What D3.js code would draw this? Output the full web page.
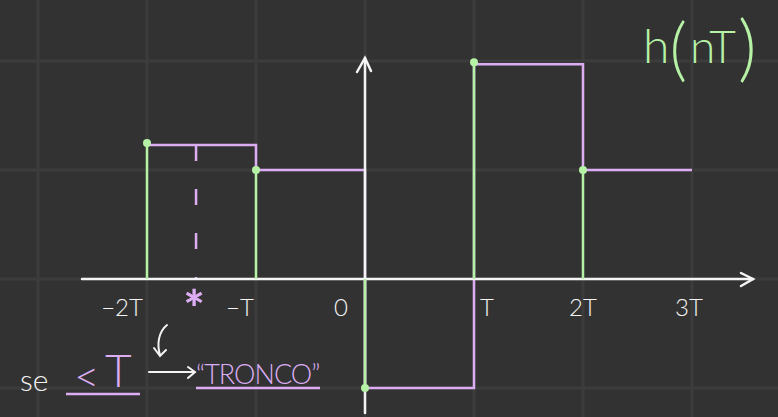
<!DOCTYPE html>
<html><head><meta charset="utf-8">
<script src="https://cdn.jsdelivr.net/npm/d3@7"></script>
<style>html,body{margin:0;padding:0;background:#323232;overflow:hidden}</style>
</head><body>
<svg id="c" width="778" height="417"></svg>
<script>
// data
const samplePositions = [-2, -1, 0, 1, 2];           // n (multiples of T)
const sampleValues    = [1.23, 1.0, -1.0, 1.97, 1.0]; // h(nT)
const holdEnd = 3;                                   // last hold ends at 3T
const tickValues = [-2, -1.55, -1, 0, 1, 2, 3];
const tickLabels = ["−2T", "*", "−T", "0", "T", "2T", "3T"];
const gridX = [-3, -2, -1, 0, 1, 2, 3, 4];
const gridY = [-1, 0, 1, 2, 3];
const dashedAt = -1.55;

const W = 778, H = 417;
const green = "#b6f2a6", purple = "#dcadf3", white = "#f4f4f4";
const svg = d3.select("#c");
const x = d3.scaleLinear().domain([-3, 3]).range([38, 692]);
const y = d3.scaleLinear().domain([-1, 2]).range([388, 61]);

svg.append("rect").attr("width", W).attr("height", H).attr("fill", "#323232");

// grid
svg.append("g").selectAll("line").data(gridX).join("line")
  .attr("x1", d => x(d)).attr("x2", d => x(d)).attr("y1", 0).attr("y2", H)
  .attr("stroke", "#3c3c3c").attr("stroke-width", 3);
svg.append("g").selectAll("line").data(gridY).join("line")
  .attr("y1", d => y(d)).attr("y2", d => y(d)).attr("x1", 0).attr("x2", W)
  .attr("stroke", "#3c3c3c").attr("stroke-width", 3);

// zero-order hold (purple step)
const stepPts = sampleValues.map((v, i) => [samplePositions[i], v]);
stepPts.push([holdEnd, sampleValues[sampleValues.length - 1]]);
svg.append("path")
  .attr("d", d3.line().x(d => x(d[0])).y(d => y(d[1])).curve(d3.curveStepAfter)(stepPts))
  .attr("fill", "none").attr("stroke", purple).attr("stroke-width", 2.5);

// dashed mid line
svg.append("line")
  .attr("x1", x(dashedAt)).attr("x2", x(dashedAt))
  .attr("y1", y(sampleValues[0])).attr("y2", y(0))
  .attr("stroke", purple).attr("stroke-width", 2.5).attr("stroke-dasharray", "16 28");

// axes
const axisG = svg.append("g").attr("stroke", white).attr("stroke-width", 2.5)
  .attr("fill", "none").attr("stroke-linecap", "round");
axisG.append("line").attr("x1", 82).attr("x2", 753).attr("y1", y(0)).attr("y2", y(0));
axisG.append("path").attr("d", `M741,${y(0) - 6} L753,${y(0)} L741,${y(0) + 7}`);
axisG.append("line").attr("x1", x(0)).attr("x2", x(0)).attr("y1", 58).attr("y2", 413);
axisG.append("path").attr("d", `M${x(0) - 8},72 L${x(0)},58 L${x(0) + 6},71`);

// stems (green)
svg.append("g").selectAll("line").data(stepPts.slice(0, samplePositions.length)).join("line")
  .attr("x1", d => x(d[0])).attr("x2", d => x(d[0]))
  .attr("y1", y(0)).attr("y2", d => y(d[1]))
  .attr("stroke", green).attr("stroke-width", 2.5);
svg.append("g").selectAll("circle").data(stepPts.slice(0, samplePositions.length)).join("circle")
  .attr("cx", d => x(d[0])).attr("cy", d => y(d[1]) - (d[1] > 1.1 ? 2 : 0)).attr("r", 4)
  .attr("fill", green);

// tick labels
const lblOffset = {"−2T": -25, "*": -2, "−T": -16, "0": -24, "T": 13, "2T": 0, "3T": -3};
svg.append("g").selectAll("text").data(tickValues).join("text")
  .attr("x", (d, i) => x(d) + lblOffset[tickLabels[i]])
  .attr("y", (d, i) => tickLabels[i] === "*" ? 327 : 316)
  .attr("text-anchor", "middle")
  .attr("font-family", "Lato, 'Open Sans', sans-serif")
  .attr("font-weight", (d, i) => tickLabels[i] === "*" ? 900 : 300)
  .attr("font-size", (d, i) => tickLabels[i] === "*" ? 50 : 24)
  .attr("fill", (d, i) => tickLabels[i] === "*" ? purple : white)
  .text((d, i) => tickLabels[i]);

// title
const title = svg.append("text").attr("x", 643).attr("y", 63)
  .attr("font-family", "Lato, sans-serif").attr("font-weight", 300)
  .attr("fill", green);
title.append("tspan").attr("font-size", 48).text("h");
title.append("tspan").attr("font-size", 68).attr("dy", 10).text("(");
title.append("tspan").attr("font-size", 46).attr("dy", -10).attr("dx", 3).text("nT");
title.append("tspan").attr("font-size", 72).attr("dy", 10).attr("dx", 2).text(")");

// annotation
const ann = svg.append("g").attr("font-family", "Lato, sans-serif").attr("font-weight", 300);
ann.append("text").attr("x", 20).attr("y", 391).attr("font-size", 30).attr("fill", white).text("se");
ann.append("text").attr("x", 74).attr("y", 392).attr("font-size", 44).attr("fill", purple).text("<");
ann.append("text").attr("x", 105).attr("y", 387).attr("font-size", 46).attr("fill", purple).text("T");
ann.append("line").attr("x1", 66).attr("x2", 140).attr("y1", 394).attr("y2", 394)
  .attr("stroke", purple).attr("stroke-width", 2.5);
ann.append("path").attr("d", "M149,372 L194,372 M188,367 L195,372 L188,378")
  .attr("fill", "none").attr("stroke", white).attr("stroke-width", 2).attr("stroke-linecap", "round");
ann.append("path").attr("d", "M167,325 C158,332 157,345 160,355 M154,348 L160,356 L166,350")
  .attr("fill", "none").attr("stroke", white).attr("stroke-width", 2).attr("stroke-linecap", "round");
ann.append("text").attr("x", 196).attr("y", 384).attr("font-size", 27).attr("fill", purple)
  .attr("letter-spacing", -1).text("“TRONCO”");
ann.append("line").attr("x1", 196).attr("x2", 320).attr("y1", 388).attr("y2", 388)
  .attr("stroke", purple).attr("stroke-width", 2.5);
</script>
</body></html>
